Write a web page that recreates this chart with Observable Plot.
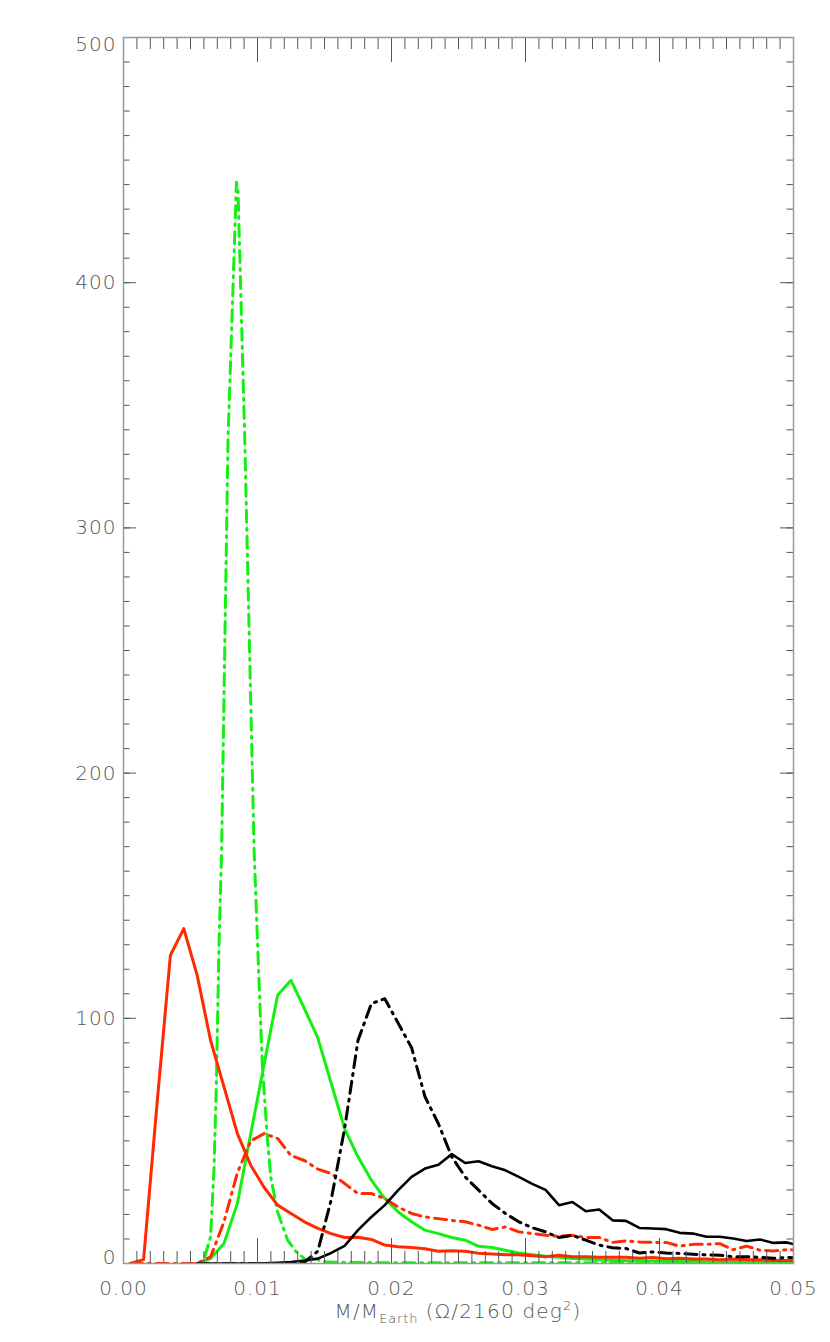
<!DOCTYPE html>
<html><head><meta charset="utf-8">
<script src="https://cdn.jsdelivr.net/npm/d3@7"></script>
<script src="https://cdn.jsdelivr.net/npm/@observablehq/plot@0.6"></script>
<style>
html,body{margin:0;padding:0;background:#fff;}
#chart svg{display:block;}
#xlabel{position:relative;width:670px;margin-left:123px;text-align:center;font-family:"DejaVu Sans";font-size:20px;letter-spacing:1.2px;color:#555;line-height:22px;height:42px;font-weight:200;white-space:nowrap;}
#xlabel .sub{font-size:13px;letter-spacing:0.8px;position:relative;top:5px;}
#xlabel .sup{font-size:13px;position:relative;top:-8px;}
</style></head><body>
<div id="chart"></div>
<div id="xlabel">M/M<span class="sub">Earth</span> (Ω/2160 deg<span class="sup">2</span>)</div>
<script>
// bin centres (M/M_Earth)
const massBins = [0.0005,0.0015,0.0025,0.0035,0.0045,0.0055,0.0065,0.0075,0.0085,0.0095,
  0.0105,0.0115,0.0125,0.0135,0.0145,0.0155,0.0165,0.0175,0.0185,0.0195,
  0.0205,0.0215,0.0225,0.0235,0.0245,0.0255,0.0265,0.0275,0.0285,0.0295,
  0.0305,0.0315,0.0325,0.0335,0.0345,0.0355,0.0365,0.0375,0.0385,0.0395,
  0.0405,0.0415,0.0425,0.0435,0.0445,0.0455,0.0465,0.0475,0.0485,0.0495,0.0505];

const redSolid = [0,1.6,65,125.7,136.6,117.5,91,72,53,40,
  31,23.8,20.4,17,14.3,12.2,10.6,10.7,9.8,7.5,
  6.8,6.5,6,5,5.2,5,4.2,3.9,3.6,3.6,
  3.2,2.8,3.4,2.8,2.8,2.5,2.5,2.5,2.1,2.4,
  1.9,2.1,1.8,1.8,1.5,1.8,1.5,1.5,1.2,1.2,1.1];

const redDashDot = [0,0,0,0,0,0,2.7,17,37,50,
  53,51,44,42,38.5,36.7,32.6,28.5,28.5,26.5,
  23,20.4,19,18.3,17.6,17,15.6,13.9,14.9,12.9,
  12.2,11.5,11.1,11.5,10.6,10.6,8.6,9.2,8.8,8.6,
  8.6,7.1,7.8,7.8,8.1,5.6,7.1,5.4,5.1,5.6,5.5];

const greenSolid = [null,null,null,null,null,0,2,8.2,24.5,53,
  81.5,109.4,115.5,104,92,73.5,55,43.5,34,26.5,
  21,17,13.6,12.2,10.6,9.5,7,6.5,5.4,4.3,
  3.6,3,2.5,2,1.8,1.5,1.3,1.2,1,1,
  0.9,0.8,0.8,0.7,0.7,0.6,0.6,0.5,0.5,0.5,0.5];

const blackSolid = [null,null,null,null,null,0,0,0,0,0,
  0.1,0.3,0.6,1.2,2,4.3,7.2,13.6,19,23.8,
  29.9,35.3,38.7,40.3,44.6,41,41.7,39.7,38,35.3,
  32.5,30,23.8,25.1,21.3,22,17.6,17.4,14.5,14.3,
  14,12.5,12.2,10.9,10.9,10.2,9.2,9.8,8.4,8.6,7.2];

const blackDashDot = [null,null,null,null,null,0,0,0,0,0,
  0,0,0,0.5,5,26,55,91,106,108,
  98,88,68,57,43.5,35.3,29.9,24.5,20.4,17,
  14.6,12.9,10.6,11.5,9.5,7.5,6.4,6.1,4.3,4.7,
  4.3,4.1,3.8,3.5,3.4,2.8,2.8,2.5,2.1,2.5,2.2];

// green dash-dot curve has finer structure
const greenDashDotX = [0.0005,0.0015,0.0025,0.0035,0.0045,0.0055,0.0060,0.0065,0.00675,0.00693,
  0.00712,0.00732,0.0078,0.00843,0.00855,0.00905,0.00975,0.01012,0.01037,0.01075,
  0.0110,0.0115,0.01225,0.0129,0.0136,0.0142,0.0148,0.0155,0.0175,0.0205,
  0.0255,0.0305,0.0355,0.0405,0.0455,0.0505];
const greenDashDotY = [0,0,0,0,0,0,1.5,11,38,73,
  128,168,336,441,437,336,168,114,80,50,
  35,21,9.5,4.7,1.5,2.5,0.8,0.5,0.4,0.3,
  0.3,0.3,0.3,0.2,0.2,0.2];

const xMajor = [0,0.01,0.02,0.03,0.04,0.05];
const xMinor = d3.ticks(0, 0.05, 50);
const yMajor = [0,100,200,300,400,500];
const yMinor = d3.range(0, 501, 10);
const yLabelsMid = [100,200,300,400];

const W = 830, H = 1300, mT = 37, mB = 37, mL = 123, mR = 37;
const innerW = W - mL - mR, innerH = H - mT - mB;

const toRows = (xs, ys) => xs.map((x, i) => ({x, y: ys[i]})).filter(d => d.y != null);

const RED = "#ff2a00", GREEN = "#14f014", BLACK = "#000";
const DASHDOT = "12,6,2,6";
const tickColor = "#555", txtColor = "#555";

const chart = Plot.plot({
  width: W, height: H,
  marginTop: mT, marginBottom: mB, marginLeft: mL, marginRight: mR,
  style: {fontFamily: "DejaVu Sans", fontSize: "20px", letterSpacing: "1px", background: "#fff"},
  x: {domain: [0, 0.05], axis: null},
  y: {domain: [0, 500], axis: null},
  marks: [
    Plot.line(toRows(greenDashDotX, greenDashDotY), {x: "x", y: "y", stroke: GREEN, strokeWidth: 3, strokeDasharray: DASHDOT, clip: true}),
    Plot.line(toRows(massBins, greenSolid), {x: "x", y: "y", stroke: GREEN, strokeWidth: 3, clip: true}),
    Plot.line(toRows(massBins, redSolid), {x: "x", y: "y", stroke: RED, strokeWidth: 3, clip: true}),
    Plot.line(toRows(massBins, redDashDot), {x: "x", y: "y", stroke: RED, strokeWidth: 3, strokeDasharray: DASHDOT, clip: true}),
    Plot.line(toRows(massBins, blackSolid), {x: "x", y: "y", stroke: BLACK, strokeWidth: 2.6, clip: true}),
    Plot.line(toRows(massBins, blackDashDot), {x: "x", y: "y", stroke: BLACK, strokeWidth: 3, strokeDasharray: DASHDOT, clip: true}),
    // ticks, bottom and top (inward)
    Plot.ruleX(xMinor, {x: d => d, stroke: tickColor, strokeWidth: 1, insetTop: innerH - 12}),
    Plot.ruleX(xMajor, {x: d => d, stroke: tickColor, strokeWidth: 1, insetTop: innerH - 25}),
    Plot.ruleX(xMinor, {x: d => d, stroke: tickColor, strokeWidth: 1, insetBottom: innerH - 12}),
    Plot.ruleX(xMajor, {x: d => d, stroke: tickColor, strokeWidth: 1, insetBottom: innerH - 25}),
    // ticks, left and right (inward)
    Plot.ruleY(yMinor, {y: d => d, stroke: tickColor, strokeWidth: 1, insetRight: innerW - 6.5}),
    Plot.ruleY(yMajor, {y: d => d, stroke: tickColor, strokeWidth: 1, insetRight: innerW - 13}),
    Plot.ruleY(yMinor, {y: d => d, stroke: tickColor, strokeWidth: 1, insetLeft: innerW - 6.5}),
    Plot.ruleY(yMajor, {y: d => d, stroke: tickColor, strokeWidth: 1, insetLeft: innerW - 13}),
    Plot.frame({stroke: "#999", strokeWidth: 1.5}),
    // tick labels
    Plot.text(xMajor, {x: d => d, text: d => d3.format(".2f")(d), frameAnchor: "bottom", lineAnchor: "top", dy: 17, fontSize: 20, fill: txtColor, fontWeight: 200}),
    Plot.text(yLabelsMid, {y: d => d, text: d => String(d), frameAnchor: "left", textAnchor: "end", dx: -7, fontSize: 20, fill: txtColor, fontWeight: 200}),
    Plot.text([0], {y: d => d, text: d => String(d), frameAnchor: "left", textAnchor: "end", dx: -7, dy: -6, fontSize: 20, fill: txtColor, fontWeight: 200}),
    Plot.text([500], {y: d => d, text: d => String(d), frameAnchor: "left", textAnchor: "end", dx: -7, dy: 7, fontSize: 20, fill: txtColor, fontWeight: 200})
  ]
});
document.getElementById("chart").appendChild(chart);
</script>
</body></html>
